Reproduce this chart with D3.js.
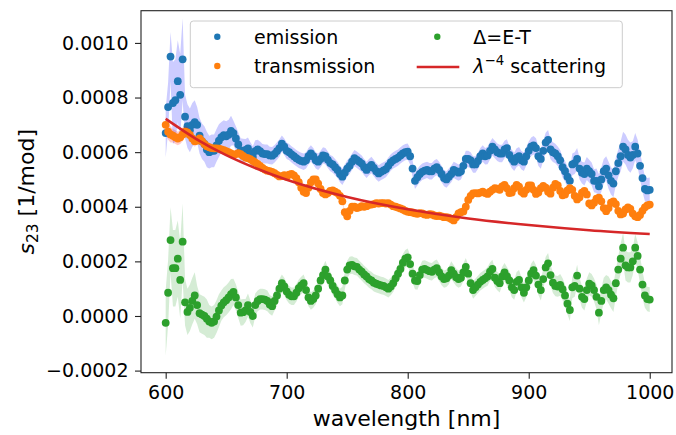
<!DOCTYPE html>
<html>
<head>
<meta charset="utf-8">
<script src="https://cdn.jsdelivr.net/npm/d3@7"></script>
<style>
body { margin: 0; background: #fff; }
svg { display: block; font-family: "DejaVu Sans", sans-serif; }
</style>
</head>
<body>
<svg></svg>
<script>
var width = 676,
    height = 435

// all values below are in units of 1e-4 [1/mod]
var wavelength = d3.range(600, 1001, 2)

var emission = [
  6.7, 7.65, 9.5, 7.8, 7.9, 8.6, 8.1, 9.4, 7.3, 6.95,
  6.8, 7.0, 7.1, 7.0, 6.6, 6.4, 6.3, 6.1, 6.0, 6.05,
  6.05, 6.25, 6.42, 6.55, 6.62, 6.58, 6.64, 6.78, 6.7, 6.5,
  6.28, 6.06, 6.04, 6.08, 6.14, 5.96, 5.82, 6.04, 6.1, 6.04,
  5.95, 5.93, 5.93, 5.88, 5.87, 5.94, 6.04, 6.15, 6.31, 6.2,
  6.05, 6.0, 5.92, 5.85, 5.78, 5.72, 5.68, 5.65, 5.7, 5.85,
  5.95, 5.85, 5.7, 5.65, 5.75, 5.88, 5.85, 5.72, 5.6, 5.55,
  5.45, 5.35, 5.2, 5.1, 5.25, 5.4, 5.5, 5.65, 5.78, 5.72,
  5.65, 5.58, 5.45, 5.35, 5.45, 5.53, 5.42, 5.3, 5.22, 5.28,
  5.33, 5.38, 5.5, 5.62, 5.7, 5.75, 5.8, 5.88, 5.95, 6.0,
  6.02, 5.85, 5.4, 4.95, 5.08, 5.2, 5.28, 5.32, 5.35, 5.3,
  5.3, 5.4, 5.45, 5.35, 5.2, 5.05, 5.0, 5.1, 5.2, 5.35,
  5.3, 5.25, 5.3, 5.5, 5.75, 5.75, 5.7, 5.55, 5.55, 5.68,
  5.85, 5.95, 5.85, 5.88, 6.05, 6.2, 6.1, 6.0, 5.95, 5.95,
  6.1, 6.15, 5.9, 5.75, 5.65, 5.8, 5.85, 5.7, 5.65, 5.85,
  6.05, 6.2, 6.25, 6.15, 5.85, 5.75, 6.05, 6.35, 6.45, 6.1,
  6.0, 5.95, 5.85, 5.7, 5.45, 5.3, 5.1, 4.95, 5.55, 5.6,
  5.75, 5.4, 5.25, 5.2, 5.4, 5.3, 5.2, 4.95, 4.95, 4.75,
  5.0, 5.3, 5.4, 5.15, 4.95, 4.85, 5.3, 5.6, 5.85, 6.2,
  6.1, 5.9, 5.8, 5.9, 6.2, 5.95, 5.5, 5.05, 4.65, 4.6,
  4.62
]

var transmission = [
  7.0, 6.75, 6.65, 6.6, 6.55, 6.5, 6.55, 6.65, 6.75, 6.72,
  6.63, 6.5, 6.4, 6.42, 6.5, 6.4, 6.3, 6.22, 6.18, 6.15,
  6.14, 6.14, 6.13, 6.1, 6.07, 6.04, 6.0, 5.95, 5.9, 5.93,
  5.96, 5.93, 5.86, 5.8, 5.78, 5.74, 5.68, 5.62, 5.57, 5.5,
  5.42, 5.36, 5.32, 5.3, 5.28, 5.23, 5.17, 5.11, 5.12, 5.16,
  5.1, 5.18, 5.2, 5.15, 5.05, 4.9, 4.7, 4.55, 4.5, 4.7,
  4.9, 5.0, 5.0, 4.85, 4.65, 4.5, 4.45, 4.5, 4.58, 4.6,
  4.55, 4.5, 4.4, 4.2, 3.8, 3.65, 3.85, 4.0, 4.0, 3.95,
  3.98, 4.02, 4.0, 4.02, 4.07, 4.08, 4.1, 4.13, 4.12, 4.13,
  4.13, 4.12, 4.13, 4.08, 4.02, 4.0, 3.97, 3.94, 3.9, 3.85,
  3.82, 3.8, 3.79, 3.76, 3.74, 3.77, 3.76, 3.72, 3.7, 3.73,
  3.72, 3.68, 3.66, 3.67, 3.65, 3.62, 3.62, 3.6, 3.55, 3.5,
  3.62, 3.76, 3.8, 3.83, 4.0, 4.25, 4.4, 4.49, 4.5, 4.49,
  4.52, 4.55, 4.5, 4.47, 4.55, 4.62, 4.68, 4.66, 4.62, 4.75,
  4.8, 4.68, 4.5, 4.52, 4.68, 4.8, 4.74, 4.55, 4.48, 4.62,
  4.78, 4.78, 4.62, 4.47, 4.52, 4.68, 4.76, 4.7, 4.55, 4.48,
  4.7, 4.84, 4.78, 4.58, 4.42, 4.45, 4.6, 4.68, 4.62, 4.4,
  4.27, 4.35, 4.52, 4.58, 4.45, 4.12, 4.05, 4.15, 4.3, 4.33,
  4.2, 3.95, 3.84, 3.95, 4.15, 4.2, 4.1, 3.85, 3.72, 3.75,
  3.9, 3.98, 3.92, 3.75, 3.65, 3.62, 3.7, 3.85, 3.98, 4.05,
  4.08
]

var delta = [
  -0.25, 0.85, 2.78, 1.75, 1.75, 2.1, 1.32, 2.72, 0.5, 0.15,
  0.3, 0.55, 0.75, 0.4, 0.1, 0.05, 0.0, -0.1, -0.2, -0.25,
  -0.2, -0.02, 0.2, 0.38, 0.5, 0.58, 0.68, 0.8, 0.88, 0.68,
  0.4, 0.12, 0.14, 0.2, 0.4, 0.15, 0.0, 0.4, 0.55, 0.62,
  0.62, 0.6, 0.55, 0.42, 0.36, 0.55, 0.75, 1.0, 1.2, 1.08,
  0.9, 0.78, 0.72, 0.72, 0.85, 1.02, 1.12, 1.2, 0.95, 0.68,
  0.55, 0.62, 0.75, 1.0, 1.3, 1.5, 1.7, 1.45, 1.3, 1.1,
  0.95, 0.8, 0.68, 0.75, 1.3, 1.7, 1.85, 1.87, 1.82, 1.8,
  1.7, 1.62, 1.52, 1.45, 1.35, 1.3, 1.22, 1.18, 1.15, 1.12,
  1.1, 1.05, 1.0, 1.08, 1.2, 1.38, 1.55, 1.72, 1.95, 2.1,
  2.15, 1.9, 1.55, 1.3, 1.28, 1.5, 1.7, 1.72, 1.68, 1.64,
  1.62, 1.7, 1.75, 1.6, 1.45, 1.35, 1.38, 1.48, 1.68, 1.55,
  1.42, 1.35, 1.4, 1.6, 1.8, 1.55, 1.2, 0.95, 1.05, 1.15,
  1.25, 1.32, 1.38, 1.45, 1.62, 1.72, 1.4, 1.28, 1.2, 1.45,
  1.6, 1.45, 1.3, 1.05, 0.95, 1.25, 1.32, 1.05, 0.85, 1.05,
  1.3, 1.55, 1.68, 1.48, 1.15, 0.95, 1.35, 1.78, 1.93, 1.5,
  1.22, 1.1, 1.08, 1.14, 0.98, 0.75, 0.45, 0.22, 1.05, 1.1,
  1.48, 1.0, 0.7, 0.62, 0.95, 1.18, 1.12, 0.95, 0.7, 0.12,
  0.55, 0.95, 1.05, 0.95, 0.78, 0.65, 1.2, 1.7, 2.1, 2.5,
  1.85, 1.78, 1.78, 2.0, 2.5, 2.2, 1.7, 1.15, 0.75, 0.62,
  0.6
]

// half width of the shaded bands, one value every 10 nm (600 ... 1000)
var emissionErr = [
  0.9, 1.5, 0.8, 0.65, 0.6, 0.55, 0.45, 0.4, 0.35, 0.32,
  0.3, 0.3, 0.3, 0.3, 0.3, 0.3, 0.3, 0.3, 0.3, 0.3,
  0.3, 0.3, 0.3, 0.3, 0.3, 0.3, 0.3, 0.32, 0.32, 0.34,
  0.34, 0.36, 0.36, 0.38, 0.4, 0.42, 0.45, 0.5, 0.55, 0.5,
  0.45
]
var transmissionErr = [
  0.3, 0.25, 0.2, 0.15, 0.1, 0.05, 0.05, 0.05, 0.05, 0.05,
  0.05, 0.05, 0.05, 0.05, 0.05, 0.05, 0.05, 0.05, 0.05, 0.05,
  0.05, 0.05, 0.05, 0.05, 0.05, 0.05, 0.05, 0.05, 0.05, 0.05,
  0.05, 0.05, 0.05, 0.05, 0.05, 0.05, 0.05, 0.05, 0.05, 0.05,
  0.05
]
var deltaErr = [
  1.2, 1.4, 0.85, 0.7, 0.6, 0.55, 0.48, 0.42, 0.38, 0.35,
  0.32, 0.32, 0.32, 0.32, 0.32, 0.32, 0.32, 0.32, 0.32, 0.32,
  0.32, 0.32, 0.32, 0.32, 0.32, 0.32, 0.32, 0.34, 0.34, 0.36,
  0.36, 0.38, 0.38, 0.4, 0.4, 0.42, 0.45, 0.5, 0.55, 0.5,
  0.45
]

// lambda^-4 scattering curve
var fitWavelength = [600, 625, 650, 675, 700, 750, 800, 850, 900, 950, 1000]
var fitValues = [7.22, 6.49, 5.89, 5.40, 4.99, 4.36, 3.91, 3.57, 3.33, 3.14, 3.0]

var xTicks = [600, 700, 800, 900, 1000]
var yTicks = [-2, 0, 2, 4, 6, 8, 10]

var svg = d3.select("svg").attr("width", width).attr("height", height)

var plotLeft = 141, plotRight = 672, plotTop = 10.7, plotBottom = 372.7

var x = d3.scaleLinear().domain([579.6, 1018.4]).range([plotLeft, plotRight])
var y = d3.scaleLinear().domain([-2.077, 11.18]).range([plotBottom, plotTop])

function errAt(arr, i) {
  return arr[Math.round(i / 5)]
}

function band(values, errs, color) {
  var area = d3.area()
    .x(function(d, i) { return x(wavelength[i]) })
    .y0(function(d, i) { return y(d - errAt(errs, i)) })
    .y1(function(d, i) { return y(d + errAt(errs, i)) })
  svg.append("path")
    .datum(values)
    .attr("d", area)
    .attr("fill", color)
    .attr("fill-opacity", 0.2)
    .attr("stroke", "none")
}

function dots(values, color) {
  svg.append("g").selectAll("circle")
    .data(values)
    .enter().append("circle")
    .attr("cx", function(d, i) { return x(wavelength[i]) })
    .attr("cy", function(d) { return y(d) })
    .attr("r", 3.9)
    .attr("fill", color)
}

band(emission, emissionErr, "blue")
dots(emission, "#1f77b4")
band(transmission, transmissionErr, "red")
dots(transmission, "#ff7f0e")
band(delta, deltaErr, "#2ca02c")
dots(delta, "#2ca02c")

var fitLine = d3.line()
  .x(function(d, i) { return x(fitWavelength[i]) })
  .y(function(d) { return y(d) })
  .curve(d3.curveMonotoneX)

svg.append("path")
  .datum(fitValues)
  .attr("d", fitLine)
  .attr("fill", "none")
  .attr("stroke", "#d62728")
  .attr("stroke-width", 2.6)

// axes
var xAxis = svg.append("g")
  .attr("transform", "translate(0," + plotBottom + ")")
  .call(d3.axisBottom(x).tickValues(xTicks).tickSize(6).tickPadding(7).tickFormat(d3.format("d")))

var yAxis = svg.append("g")
  .attr("transform", "translate(" + plotLeft + ",0)")
  .call(d3.axisLeft(y).tickValues(yTicks).tickSize(6).tickPadding(6.5)
    .tickFormat(function(d) { return d3.format(".4f")(d * 1e-4) }))

;[xAxis, yAxis].forEach(function(g) {
  g.select(".domain").remove()
  g.selectAll(".tick line").attr("stroke", "#222").attr("stroke-width", 1.1)
  g.selectAll(".tick text")
    .attr("fill", "#000")
    .style("font-size", "19px")
    .style("font-family", "DejaVu Sans")
})

svg.append("rect")
  .attr("x", plotLeft).attr("y", plotTop)
  .attr("width", plotRight - plotLeft).attr("height", plotBottom - plotTop)
  .attr("fill", "none")
  .attr("stroke", "#222")
  .attr("stroke-width", 1.1)

// axis labels
svg.append("text")
  .attr("x", (plotLeft + plotRight) / 2)
  .attr("y", 426)
  .attr("text-anchor", "middle")
  .style("font-size", "22px")
  .text("wavelength [nm]")

var ylab = svg.append("text")
  .attr("transform", "translate(33.5," + (plotTop + plotBottom) / 2 + ") rotate(-90)")
  .attr("text-anchor", "middle")
  .style("font-size", "22px")
ylab.append("tspan").style("font-style", "italic").text("s")
ylab.append("tspan").style("font-size", "15.4px").attr("dy", 4).text("23")
ylab.append("tspan").attr("dy", -4).text(" [1/mod]")

// legend
var legend = svg.append("g")
legend.append("rect")
  .attr("x", 190.3).attr("y", 21)
  .attr("width", 432).attr("height", 66.7)
  .attr("rx", 3)
  .attr("fill", "#fff").attr("fill-opacity", 0.8)
  .attr("stroke", "#cccccc")

var row1 = 36.7, row2 = 66
legend.append("circle").attr("cx", 217.3).attr("cy", row1).attr("r", 3.2).attr("fill", "#1f77b4")
legend.append("circle").attr("cx", 217.3).attr("cy", row2).attr("r", 3.2).attr("fill", "#ff7f0e")
legend.append("circle").attr("cx", 437.3).attr("cy", row1).attr("r", 3.2).attr("fill", "#2ca02c")
legend.append("line")
  .attr("x1", 416.7).attr("x2", 459.3)
  .attr("y1", row2 + 1).attr("y2", row2 + 1)
  .attr("stroke", "#d62728").attr("stroke-width", 2.6)

legend.append("text").attr("x", 254).attr("y", row1 + 6.8).style("font-size", "19px").text("emission")
legend.append("text").attr("x", 254).attr("y", row2 + 6.8).style("font-size", "19px").text("transmission")
legend.append("text").attr("x", 473.3).attr("y", row1 + 6.8).style("font-size", "19px").text("Δ=E-T")
var lam = legend.append("text").attr("x", 473.3).attr("y", row2 + 6.8).style("font-size", "19px")
lam.append("tspan").style("font-style", "italic").text("λ")
lam.append("tspan").style("font-size", "13.3px").attr("dy", -8).text("−4")
lam.append("tspan").attr("dy", 8).text(" scattering")
</script>
</body>
</html>
